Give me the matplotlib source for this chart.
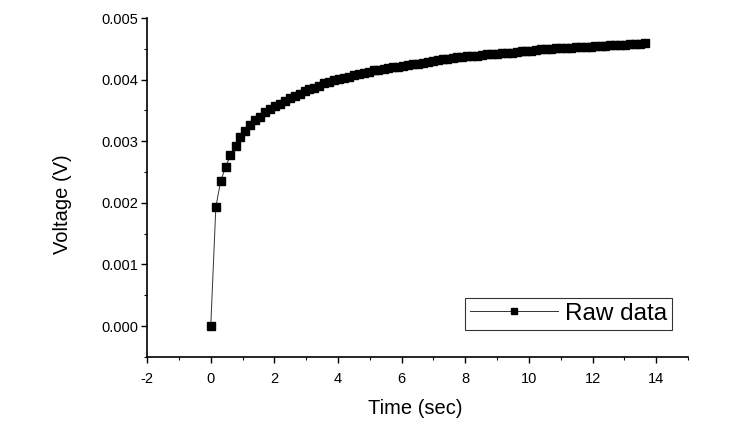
"""
Raw voltage response over time
Square markers joined by a thin line, styled like an old Origin plot
"""

import matplotlib
matplotlib.use('Agg')
import matplotlib.pyplot as plt
from matplotlib.ticker import MultipleLocator, FormatStrFormatter

# Data (time in s, voltage in V)
TIME_S = [
    0.00, 0.16, 0.31, 0.47, 0.62, 0.78, 0.93, 1.09, 1.24, 1.40,
    1.55, 1.71, 1.86, 2.02, 2.17, 2.33, 2.48, 2.64, 2.79, 2.95,
    3.10, 3.26, 3.41, 3.57, 3.72, 3.88, 4.03, 4.19, 4.34, 4.50,
    4.65, 4.81, 4.96, 5.12, 5.27, 5.43, 5.58, 5.74, 5.89, 6.05,
    6.20, 6.36, 6.51, 6.67, 6.82, 6.98, 7.13, 7.29, 7.44, 7.60,
    7.75, 7.91, 8.06, 8.22, 8.37, 8.53, 8.68, 8.84, 8.99, 9.15,
    9.30, 9.46, 9.61, 9.77, 9.92, 10.08, 10.23, 10.39, 10.54, 10.70,
    10.85, 11.01, 11.16, 11.32, 11.47, 11.63, 11.78, 11.94, 12.09, 12.25,
    12.40, 12.56, 12.71, 12.87, 13.02, 13.18, 13.33, 13.49, 13.64,
]
VOLTAGE_MV = [
    0.00, 1.93, 2.35, 2.59, 2.77, 2.93, 3.07, 3.17, 3.26, 3.35,
    3.40, 3.47, 3.52, 3.57, 3.61, 3.66, 3.71, 3.74, 3.77, 3.81,
    3.84, 3.87, 3.90, 3.94, 3.96, 3.99, 4.01, 4.03, 4.05, 4.07,
    4.09, 4.11, 4.13, 4.15, 4.16, 4.18, 4.19, 4.20, 4.21, 4.22,
    4.24, 4.25, 4.26, 4.27, 4.29, 4.31, 4.32, 4.33, 4.34, 4.35,
    4.36, 4.37, 4.38, 4.39, 4.39, 4.40, 4.41, 4.42, 4.42, 4.43,
    4.44, 4.44, 4.45, 4.46, 4.47, 4.47, 4.48, 4.49, 4.49, 4.50,
    4.51, 4.51, 4.52, 4.52, 4.53, 4.53, 4.53, 4.53, 4.54, 4.54,
    4.55, 4.56, 4.56, 4.57, 4.57, 4.58, 4.58, 4.58, 4.59,
]
VOLTAGE_V = [v / 1000 for v in VOLTAGE_MV]

SERIES_LABEL = 'Raw data'
X_LABEL = 'Time (sec)'
Y_LABEL = 'Voltage (V)'
OUTPUT_FILE = 'out.png'

plt.rcParams['font.family'] = ['Liberation Sans', 'DejaVu Sans']
plt.rcParams['axes.unicode_minus'] = False

fig = plt.figure(figsize=(7.43, 4.29), dpi=100)
ax = fig.add_axes([0.198, 0.168, 0.728, 0.790])

line, = ax.plot(TIME_S, VOLTAGE_V, color='#333333', linewidth=0.7,
                marker='s', markersize=5.8, markerfacecolor='black',
                markeredgecolor='black', label=SERIES_LABEL)

ax.set_xlim(-2, 15)
ax.set_ylim(-0.0005, 0.005)

ax.xaxis.set_major_locator(MultipleLocator(2))
ax.xaxis.set_minor_locator(MultipleLocator(1))
ax.yaxis.set_major_locator(MultipleLocator(0.001))
ax.yaxis.set_minor_locator(MultipleLocator(0.0005))
ax.yaxis.set_major_formatter(FormatStrFormatter('%.3f'))

for side in ('top', 'right'):
    ax.spines[side].set_visible(False)
for side in ('left', 'bottom'):
    ax.spines[side].set_linewidth(1.2)

ax.tick_params(which='major', direction='out', length=4.5, width=1,
               labelsize=10.5)
ax.tick_params(axis='x', which='major', pad=6)
ax.tick_params(axis='y', which='major', pad=2)
ax.tick_params(which='minor', direction='out', length=2.5, width=0.8)

ax.set_xlabel(X_LABEL, fontsize=14.5)
ax.set_ylabel(Y_LABEL, fontsize=14.5)
ax.xaxis.set_label_coords(0.495, -0.123)
ax.yaxis.set_label_coords(-0.138, 0.45)

leg = ax.legend(loc='lower right', bbox_to_anchor=(0.97, 0.08),
                fontsize=17.5, frameon=True, fancybox=False,
                handlelength=3.6, borderpad=0.2, handletextpad=0.3,
                borderaxespad=0, markerscale=0.85)
leg.get_frame().set_edgecolor('black')
leg.get_frame().set_linewidth(0.8)

fig.savefig(OUTPUT_FILE, dpi=100, facecolor='white')
